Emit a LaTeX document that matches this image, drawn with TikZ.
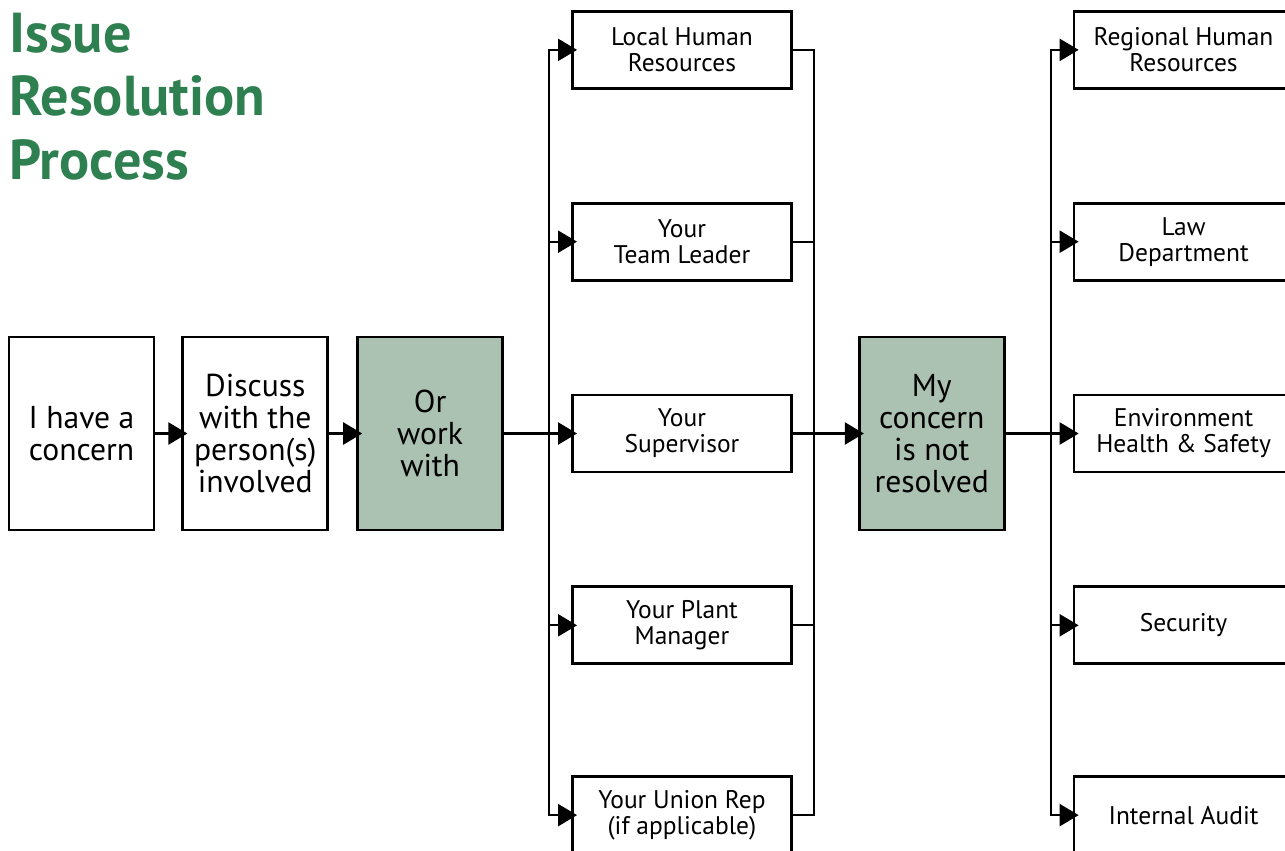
\documentclass[tikz,border=0pt]{standalone}
\usepackage{fontspec}
\setmainfont{PT Sans}
\usepackage{xcolor}
\usepackage{tikz}
\usetikzlibrary{arrows.meta, positioning, calc}
\definecolor{titlegreen}{RGB}{46,128,80}
\definecolor{sage}{RGB}{171,193,177}

\begin{document}
\begin{tikzpicture}[
  stepbox/.style={rectangle, draw=black, line width=1.6pt, fill=white,
               minimum width=2.9cm, minimum height=3.86cm, inner sep=0pt,
               text centered, align=center, font=\fontsize{18}{18.3}\selectfont},
  stepdark/.style={stepbox, fill=sage},
  contact/.style={rectangle, draw=black, line width=1.6pt, fill=white,
                  minimum width=4.38cm, minimum height=1.54cm, inner sep=0pt,
                  text centered, align=center, font=\fontsize{14.5}{14.8}\selectfont},
  arr/.style={-{Triangle[length=0.38cm, width=0.44cm]}, line width=1.3pt,
              shorten >=-0.12cm},
  link/.style={line width=1.3pt},
  node distance=2.24cm
]
\useasboundingbox (0,0) rectangle (25.7,-17);

% heading
\node[anchor=base west, inner sep=0pt, align=left, text=titlegreen,
      font=\fontsize{32}{35.9}\selectfont\bfseries] (title) at (0.18,-3.58)
  {Issue\\Resolution\\Process};

% main flow
\node[stepbox] (concern) at (1.63,-8.67) {I have a\\concern};
\node[stepbox, right=0.52cm of concern] (discuss) {Discuss\\with the\\person(s)\\involved};
\node[stepdark, right=0.54cm of discuss] (orwork) {Or\\work\\with};

% first contacts
\node[contact, right=1.34cm of orwork] (sup)   {Your\\Supervisor};
\node[contact, above=of sup]         (team)  {Your\\Team Leader};
\node[contact, above=of team]        (lhr)   {Local Human\\Resources};
\node[contact, below=of sup]         (plant) {Your Plant\\Manager};
\node[contact, below=2.2cm of plant] (union) {Your Union Rep\\(if applicable)};

\node[stepdark, right=1.3cm of sup] (notres) {My\\concern\\is not\\resolved};

% second contacts
\node[contact, right=1.34cm of notres] (ehs)   {Environment\\Health \& Safety};
\node[contact, above=of ehs]          (law)   {Law\\Department};
\node[contact, above=of law]          (rhr)   {Regional Human\\Resources};
\node[contact, below=of ehs]          (sec)   {Security};
\node[contact, below=2.2cm of sec]    (audit) {Internal Audit};

\draw[arr] (concern) -- (discuss);
\draw[arr] (discuss) -- (orwork);
\foreach \n in {lhr,team,sup,plant,union}{
  \draw[arr] (orwork.east) -- ++(0.9,0) |- (\n.west);
  \draw[link] (\n.east) -- ++(0.42,0) |- (notres.west);
}
\draw[arr] (sup.east) -- (notres.west);
\foreach \n in {rhr,law,ehs,sec,audit}
  \draw[arr] (notres.east) -- ++(0.9,0) |- (\n.west);
\end{tikzpicture}
\end{document}
